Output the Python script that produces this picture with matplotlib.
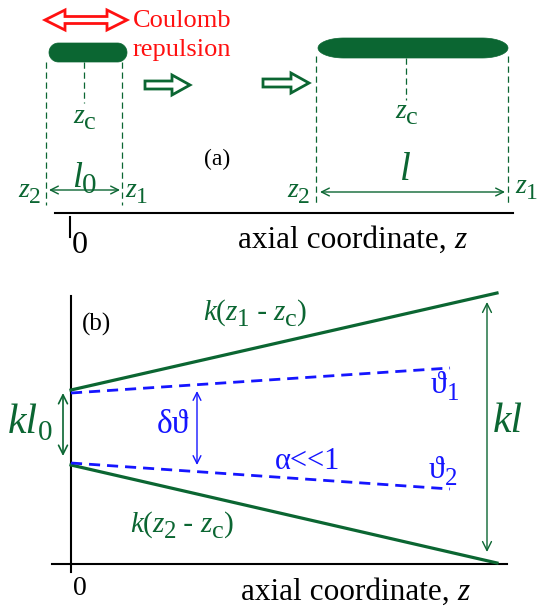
import numpy as np
import matplotlib
matplotlib.use("Agg")
import matplotlib.pyplot as plt
from matplotlib.patches import Polygon

FONT = ["Liberation Serif", "DejaVu Serif"]
plt.rcParams["font.family"] = FONT

GREEN = "#0b6632"
BLUE = "#1515ff"
RED = "#ff1010"

# ---- panel (a): bunch before / after expansion (pixel coords) ----
bunch0_z = [49, 127]          # z2, z1 of initial bunch
bunch0_y = [43, 62]
bunch_z = [318, 508]          # z2, z1 after expansion
bunch_y = [38, 58]
dash0_x = [46, 122]
dash_x = [316, 508]
zc0_x, zc_x = 84, 406
axis_a_y = 213

# ---- panel (b): phase-space lines ----
line_z = [71, 497]
upper_solid = [390, 293]
lower_solid = [465, 563]
dash_z = [71, 450]
upper_dash = [393, 368]
lower_dash = [463, 489]
axis_b_y = 564

fig = plt.figure(figsize=(5.49, 6.07), dpi=100)
ax = fig.add_axes([0, 0, 1, 1])
ax.set_xlim(0, 549)
ax.set_ylim(607, 0)
ax.axis("off")


def capsule(x0, x1, y0, y1, rx):
    ry = (y1 - y0) / 2
    yc = (y0 + y1) / 2
    t = np.linspace(-np.pi / 2, np.pi / 2, 40)
    right = np.c_[x1 - rx + rx * np.cos(t), yc + ry * np.sin(t)]
    left = np.c_[x0 + rx - rx * np.cos(t), yc - ry * np.sin(t)]
    return Polygon(np.vstack([right, left]), closed=True, fc=GREEN, ec=GREEN, lw=0.5)


def hollow_arrow(x0, x1, y, sw=4, hw=10, hl=18, color=GREEN, double=False):
    if double:
        pts = [(x0, y), (x0 + hl, y - hw), (x0 + hl, y - sw), (x1 - hl, y - sw),
               (x1 - hl, y - hw), (x1, y), (x1 - hl, y + hw), (x1 - hl, y + sw),
               (x0 + hl, y + sw), (x0 + hl, y + hw)]
    else:
        pts = [(x0, y - sw), (x1 - hl, y - sw), (x1 - hl, y - hw), (x1, y),
               (x1 - hl, y + hw), (x1 - hl, y + sw), (x0, y + sw)]
    ax.add_patch(Polygon(pts, closed=True, fc="white", ec=color, lw=2))


def dbl(x0, y0, x1, y1, color, lw=1.0, ms=16):
    ax.annotate("", xy=(x1, y1), xytext=(x0, y0),
                arrowprops=dict(arrowstyle="<->", color=color, lw=lw,
                                mutation_scale=ms, shrinkA=0, shrinkB=0))


def label(x, y, parts, color):
    # parts: (text, fontsize, style, drop in px below baseline)
    prev = None
    for s, size, style, dy in parts:
        kw = dict(fontsize=size, fontstyle=style, color=color, family=FONT,
                  va="baseline", ha="left")
        if prev is None:
            prev = ax.text(x, y + dy, s, **kw)
        else:
            prev = ax.annotate(s, xy=(1, y), xycoords=(prev, "data"),
                               xytext=(0, -dy), textcoords="offset pixels", **kw)


def zlab(x, y, sub, size=20, subsize=17, drop=6):
    label(x, y, [("z", size, "italic", 0), (sub, subsize, "normal", drop)], GREEN)


# bunches
ax.add_patch(capsule(bunch0_z[0], bunch0_z[1], bunch0_y[0], bunch0_y[1], 9.5))
ax.add_patch(capsule(bunch_z[0], bunch_z[1], bunch_y[0], bunch_y[1], 26))

dkw = dict(color=GREEN, lw=0.9, ls=(0, (5, 3)))
for x in dash0_x:
    ax.plot([x, x], [62, 205], **dkw)
ax.plot([zc0_x, zc0_x], [62, 103], **dkw)
for x in dash_x:
    ax.plot([x, x], [56, 205], **dkw)
ax.plot([zc_x, zc_x], [58, 100], **dkw)

# Coulomb repulsion
hollow_arrow(45, 127, 20, sw=3.5, hw=10, hl=20, color=RED, double=True)
label(133, 27, [("Coulomb", 19, "normal", 0)], RED)
label(133, 56, [("repulsion", 19, "normal", 0)], RED)

hollow_arrow(145, 190, 85)
hollow_arrow(263, 309, 83)

zlab(73, 123, "c", subsize=19)
zlab(395, 118, "c", subsize=19)

label(204, 165, [("(a)", 17, "normal", 0)], "black")

label(72, 187, [("l", 26, "italic", 0), ("0", 21, "normal", 6)], GREEN)
dbl(49, 190, 120, 190, GREEN, lw=1.0, ms=14)
label(400, 180, [("l", 28, "italic", 0)], GREEN)
dbl(320, 192, 505, 192, GREEN, lw=1.0, ms=14)

zlab(18, 197, "2")
zlab(125, 197, "1")
zlab(287, 197, "2")
zlab(515, 193, "1")

ax.plot([55, 513], [axis_a_y, axis_a_y], color="black", lw=1.5)
ax.plot([70, 70], [217, 237], color="black", lw=1.5)
label(72, 253, [("0", 23, "normal", 0)], "black")
label(238, 248, [("axial coordinate, ", 22.5, "normal", 0), ("z", 22.5, "italic", 0)], "black")

# ---- panel (b) ----
ax.plot([71, 71], [296, 572], color="black", lw=1.5)
ax.plot([52, 507], [axis_b_y, axis_b_y], color="black", lw=1.5)
label(73, 595, [("0", 20, "normal", 0)], "black")
label(241, 600, [("axial coordinate, ", 22.5, "normal", 0), ("z", 22.5, "italic", 0)], "black")
label(82, 331, [("(b)", 18, "normal", 0)], "black")

ax.plot(line_z, upper_solid, color=GREEN, lw=2.3)
ax.plot(line_z, lower_solid, color=GREEN, lw=2.3)
ax.plot(dash_z, upper_dash, color=BLUE, lw=2.0, ls=(0, (4, 2.5)))
ax.plot(dash_z, lower_dash, color=BLUE, lw=2.0, ls=(0, (4, 2.5)))

dbl(197, 391, 197, 465, BLUE, lw=1.0, ms=14)
label(157, 433, [("δϑ", 24, "normal", 0)], BLUE)
label(275, 469, [("α<<1", 22, "normal", 0)], BLUE)
label(431, 393, [("ϑ", 23, "normal", 0), ("1", 18, "normal", 7)], BLUE)
label(429, 478, [("ϑ", 23, "normal", 0), ("2", 18, "normal", 7)], BLUE)

dbl(63, 393, 63, 456, GREEN, lw=1.2, ms=16)
label(8, 433, [("kl", 30, "italic", 0), ("0", 21, "normal", 7)], GREEN)
dbl(487, 302, 487, 552, GREEN, lw=1.0, ms=16)
label(493, 432, [("kl", 30, "italic", 0)], GREEN)

for x0, y0, sub in [(203, 320, "1"), (130, 532, "2")]:
    label(x0, y0, [("k", 21, "italic", 0), ("(", 21, "normal", 0),
                   ("z", 21, "italic", 0), (sub, 18, "normal", 6),
                   (" - ", 21, "normal", 0), ("z", 21, "italic", 0),
                   ("c", 19, "normal", 6), (")", 21, "normal", 0)], GREEN)

fig.savefig("out.png", dpi=100)
